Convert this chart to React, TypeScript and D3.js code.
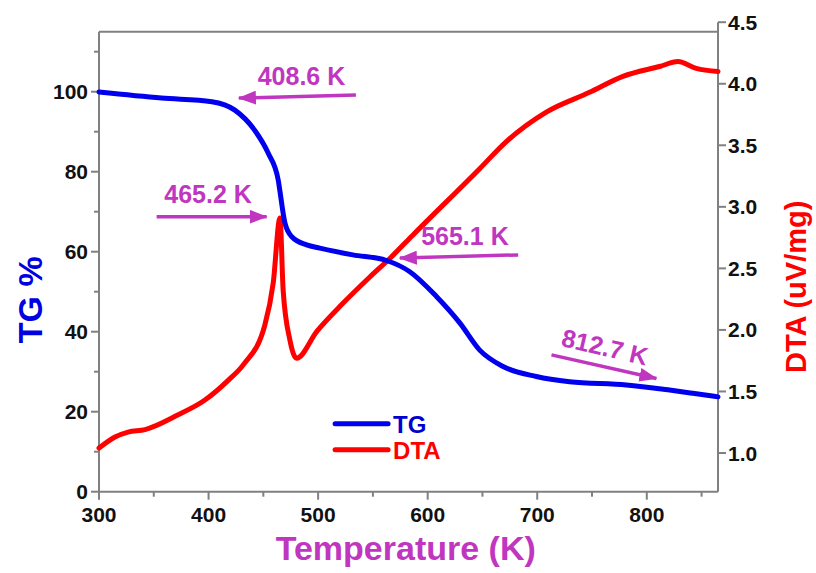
import * as d3 from 'd3'

// TG (%)
const tgTemp = [300, 357, 403, 424, 442, 454.5, 463.6, 465, 469.7, 475.8, 489.5, 501.6, 531.7, 562.4, 583.7, 608, 629.3, 647.5, 668.8, 699.2, 729.6, 781.3, 820.8, 842, 865]
const tgValue = [99.9, 98.4, 97.5, 95.4, 90.4, 84.6, 77.9, 75.4, 67.2, 63.8, 61.7, 60.9, 59.2, 57.8, 55.0, 48.8, 42.2, 35.4, 31.3, 28.8, 27.5, 26.7, 25.4, 24.6, 23.7]

// DTA (uV/mg)
const dtaTemp = [300, 314.6, 326.5, 342, 372.3, 396.7, 417.9, 432, 451.4, 459, 465.2, 468.1, 474.2, 480.3, 499, 522, 547.2, 565.4, 586.4, 647.5, 671.8, 708.3, 747.8, 778.2, 811.7, 828.4, 845.2, 865]
const dtaValue = [1.04, 1.13, 1.17, 1.19, 1.31, 1.43, 1.59, 1.72, 2.04, 2.38, 2.91, 2.32, 1.92, 1.77, 1.99, 2.21, 2.43, 2.58, 2.77, 3.31, 3.53, 3.77, 3.93, 4.06, 4.14, 4.18, 4.125, 4.1]

const xTicks = [300, 400, 500, 600, 700, 800]
const xMinor = [350, 450, 550, 650, 750, 850]
const tgTicks = [0, 20, 40, 60, 80, 100]
const tgMinor = [10, 30, 50, 70, 90, 110]
const dtaTicks = [1.0, 1.5, 2.0, 2.5, 3.0, 3.5, 4.0, 4.5]

// annotations in data coordinates (temperature, TG %)
const notes = [
  { label: '408.6 K', tx: 484.8, ty: 101.7, from: [534.5, 99.2], to: [427.7, 98.4], angle: 0 },
  { label: '465.2 K', tx: 399.5, ty: 72.2, from: [352.6, 68.75], to: [453, 68.75], angle: 0 },
  { label: '565.1 K', tx: 634, ty: 61.7, from: [682.6, 59.2], to: [574.6, 58.4], angle: 0 },
  { label: '812.7 K', tx: 760, ty: 34.0, from: [713, 34.2], to: [808.8, 28.3], angle: 13 },
]

const width = 816
const height = 573
const margin = { top: 31.7, right: 98, bottom: 81.3, left: 99 }
const font = '"Liberation Sans", Arial, sans-serif'
const axisGray = '#808080'
const magenta = '#c036c0'
const blue = '#0000ee'
const red = '#ff0000'

export default function App() {
  const x = d3.scaleLinear().domain([300, 865]).range([margin.left, width - margin.right])
  const y = d3.scaleLinear().domain([0, 115]).range([height - margin.bottom, margin.top])
  const yR = d3.scaleLinear().domain([1.0, 4.5]).range([453, 22.2])
  const bottom = height - margin.bottom
  const left = margin.left
  const right = width - margin.right

  const tgLine = d3
    .line<number>()
    .x((_, i) => x(tgTemp[i]))
    .y((d) => y(d))
    .curve(d3.curveMonotoneX)
  const dtaLine = d3
    .line<number>()
    .x((_, i) => x(dtaTemp[i]))
    .y((d) => yR(d))
    .curve(d3.curveMonotoneX)

  return (
    <svg
      width={width}
      height={height}
      viewBox={`0 0 ${width} ${height}`}
      style={{ position: 'absolute', left: 0, top: 0, display: 'block', background: '#fff' }}
      fontFamily={font}
      fontWeight="bold"
    >
      <defs>
        <marker
          id="head"
          viewBox="0 0 18 14"
          refX="17"
          refY="7"
          markerWidth="18"
          markerHeight="14"
          markerUnits="userSpaceOnUse"
          orient="auto"
        >
          <path d="M0,0 L18,7 L0,14 Z" fill={magenta} />
        </marker>
      </defs>

      {/* frame */}
      <line x1={left} x2={right} y1={margin.top} y2={margin.top} stroke={axisGray} strokeWidth="2" />
      <line x1={left} x2={right} y1={bottom} y2={bottom} stroke={axisGray} strokeWidth="2" />
      <line x1={left} x2={left} y1={margin.top} y2={bottom} stroke={axisGray} strokeWidth="2" />
      <line x1={right} x2={right} y1={yR(4.5)} y2={bottom} stroke={axisGray} strokeWidth="2" />

      {/* bottom axis */}
      {xTicks.map((t) => (
        <g key={t} transform={`translate(${x(t)},0)`}>
          <line y1={bottom} y2={bottom + 8} stroke={axisGray} strokeWidth="2" />
          <text y={bottom + 30} textAnchor="middle" fontSize="21" fill="#111">
            {t}
          </text>
        </g>
      ))}
      {xMinor.map((t) => (
        <line key={t} x1={x(t)} x2={x(t)} y1={bottom} y2={bottom + 5} stroke={axisGray} strokeWidth="2" />
      ))}

      {/* left axis */}
      {tgTicks.map((t) => (
        <g key={t} transform={`translate(0,${y(t)})`}>
          <line x1={left - 8} x2={left} stroke={axisGray} strokeWidth="2" />
          <text x={left - 11} y={7.5} textAnchor="end" fontSize="21" fill="#111">
            {t}
          </text>
        </g>
      ))}
      {tgMinor.map((t) => (
        <line key={t} x1={left - 5} x2={left} y1={y(t)} y2={y(t)} stroke={axisGray} strokeWidth="2" />
      ))}

      {/* right axis */}
      {dtaTicks.map((t) => (
        <g key={t} transform={`translate(0,${yR(t)})`}>
          <line x1={right} x2={right + 8} stroke={axisGray} strokeWidth="2" />
          <text x={right + 10} y={7.5} textAnchor="start" fontSize="21" fill="#111">
            {t.toFixed(1)}
          </text>
        </g>
      ))}

      {/* axis titles */}
      <text
        transform={`translate(42,${y(48)}) rotate(-90)`}
        textAnchor="middle"
        fontSize="34"
        fill="#0000e0"
      >
        TG %
      </text>
      <text
        transform={`translate(806,${yR(2.35)}) rotate(-90)`}
        textAnchor="middle"
        fontSize="29"
        fill={red}
      >
        DTA (uV/mg)
      </text>
      <text x={x(580)} y={560} textAnchor="middle" fontSize="34" fill={magenta}>
        Temperature (K)
      </text>

      {/* curves */}
      <path d={dtaLine(dtaValue) ?? ''} fill="none" stroke={red} strokeWidth="5" strokeLinejoin="round" strokeLinecap="round" />
      <path d={tgLine(tgValue) ?? ''} fill="none" stroke={blue} strokeWidth="5" strokeLinejoin="round" strokeLinecap="round" />

      {/* annotations */}
      {notes.map((n) => (
        <g key={n.label}>
          <line
            x1={x(n.from[0])}
            y1={y(n.from[1])}
            x2={x(n.to[0])}
            y2={y(n.to[1])}
            stroke={magenta}
            strokeWidth="3.5"
            markerEnd="url(#head)"
          />
          <text
            transform={`translate(${x(n.tx)},${y(n.ty)}) rotate(${n.angle})`}
            textAnchor="middle"
            fontSize="25"
            fill={magenta}
          >
            {n.label}
          </text>
        </g>
      ))}

      {/* legend */}
      <g transform={`translate(${x(515.5)},${y(17)})`}>
        <line x1={0} x2={53} y1={0} y2={0} stroke={blue} strokeWidth="5" strokeLinecap="round" />
        <text x={58} y={9} fontSize="24" fill="#0000d0">TG</text>
        <line x1={0} x2={53} y1={26} y2={26} stroke={red} strokeWidth="5" strokeLinecap="round" />
        <text x={58} y={35} fontSize="24" fill={red}>DTA</text>
      </g>
    </svg>
  )
}
